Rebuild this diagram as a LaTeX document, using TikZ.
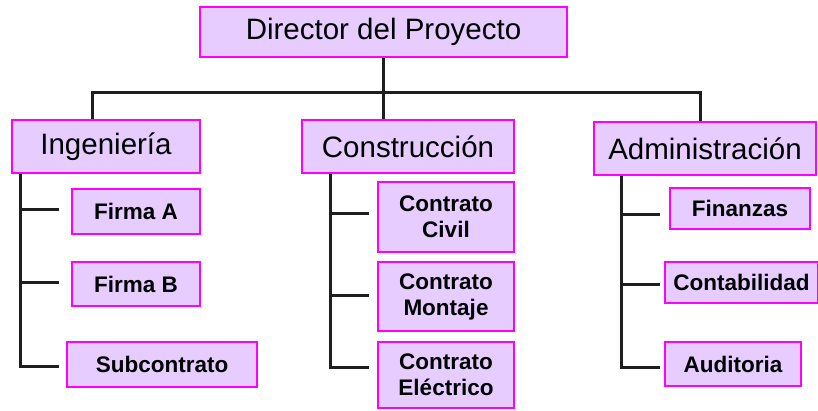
\documentclass[tikz,border=0pt]{standalone}
\usepackage{fontspec}
\setmainfont{Liberation Sans}
\usetikzlibrary{positioning}
\definecolor{lila}{RGB}{230,204,255}
\definecolor{rosa}{RGB}{255,0,255}
\definecolor{linea}{RGB}{30,30,30}

\begin{document}
\begin{tikzpicture}
    [x=1pt, y=-1pt,
    head/.style={fill=lila, draw=rosa, line width=2.8pt, inner sep=0pt, font=\fontsize{29.5}{32}\selectfont},
    unit/.style={fill=lila, draw=rosa, line width=2.8pt, inner sep=0pt, align=center, font=\fontsize{22.5}{26}\selectfont\bfseries},
    conn/.style={draw=linea, line width=3pt}]
    \useasboundingbox (0,0) rectangle (818,410);
    % cabeza y departamentos
    \node[head, minimum width=367pt, minimum height=50pt] (dir) at (383.5,32)  {Director del Proyecto};
    \node[head, minimum width=188pt, minimum height=53pt] (ing) at (106,146.5) {Ingeniería};
    \node[head, minimum width=212pt, minimum height=53pt] (con) at (408,146.5) {Construcción};
    \node[head, minimum width=222pt, minimum height=53pt] (adm) at (705,148.5) {Administración};
    % unidades
    \node[unit, minimum width=128pt, minimum height=45pt] (fa)   at (136,211.5) {Firma A};
    \node[unit, minimum width=128pt, minimum height=44pt] (fb)   at (136,284)   {Firma B};
    \node[unit, minimum width=190pt, minimum height=45pt] (sub)  at (162,364.5) {Subcontrato};
    \node[unit, minimum width=136pt, minimum height=70pt] (cc)   at (446,217)   {Contrato\\Civil};
    \node[unit, minimum width=136pt, minimum height=69pt] (cm)   at (446,296.5) {Contrato\\Montaje};
    \node[unit, minimum width=136pt, minimum height=66pt] (ce)   at (446,375)   {Contrato\\Eléctrico};
    \node[unit, minimum width=140pt, minimum height=41pt] (fin)  at (740,208.5) {Finanzas};
    \node[unit, minimum width=153pt, minimum height=41pt] (cont) at (741.5,282.5) {Contabilidad};
    \node[unit, minimum width=136pt, minimum height=44pt] (aud)  at (733,364)   {Auditoria};
    % barra superior
    \coordinate (busL) at (92,92);
    \coordinate (busR) at (700,92);
    \draw[conn] (dir.south) -- (dir.south |- con.north);
    \draw[conn] (busL |- ing.north) -- (busL) -- (busR) -- (busR |- adm.north);
    % ramas
    \draw[conn] ([xshift=10pt]ing.south west) |- ([xshift=-12pt,yshift=2pt]fa.west);
    \draw[conn] ([xshift=10pt]ing.south west) |- ([xshift=-12pt,yshift=2pt]fb.west);
    \draw[conn] ([xshift=10pt]ing.south west) |- ([xshift=-7pt,yshift=-2pt]sub.west);
    \draw[conn] ([xshift=30pt]con.south west) |- ([xshift=-8pt,yshift=4pt]cc.west);
    \draw[conn] ([xshift=30pt]con.south west) |- ([xshift=-8pt,yshift=1pt]cm.west);
    \draw[conn] ([xshift=30pt]con.south west) |- ([xshift=-8pt,yshift=8pt]ce.west);
    \draw[conn] ([xshift=29pt]adm.south west) |- ([xshift=-9pt,yshift=-6pt]fin.west);
    \draw[conn] ([xshift=29pt]adm.south west) |- ([xshift=-4pt,yshift=-2pt]cont.west);
    \draw[conn] ([xshift=29pt]adm.south west) |- ([xshift=-4pt,yshift=-3pt]aud.west);
\end{tikzpicture}
\end{document}
